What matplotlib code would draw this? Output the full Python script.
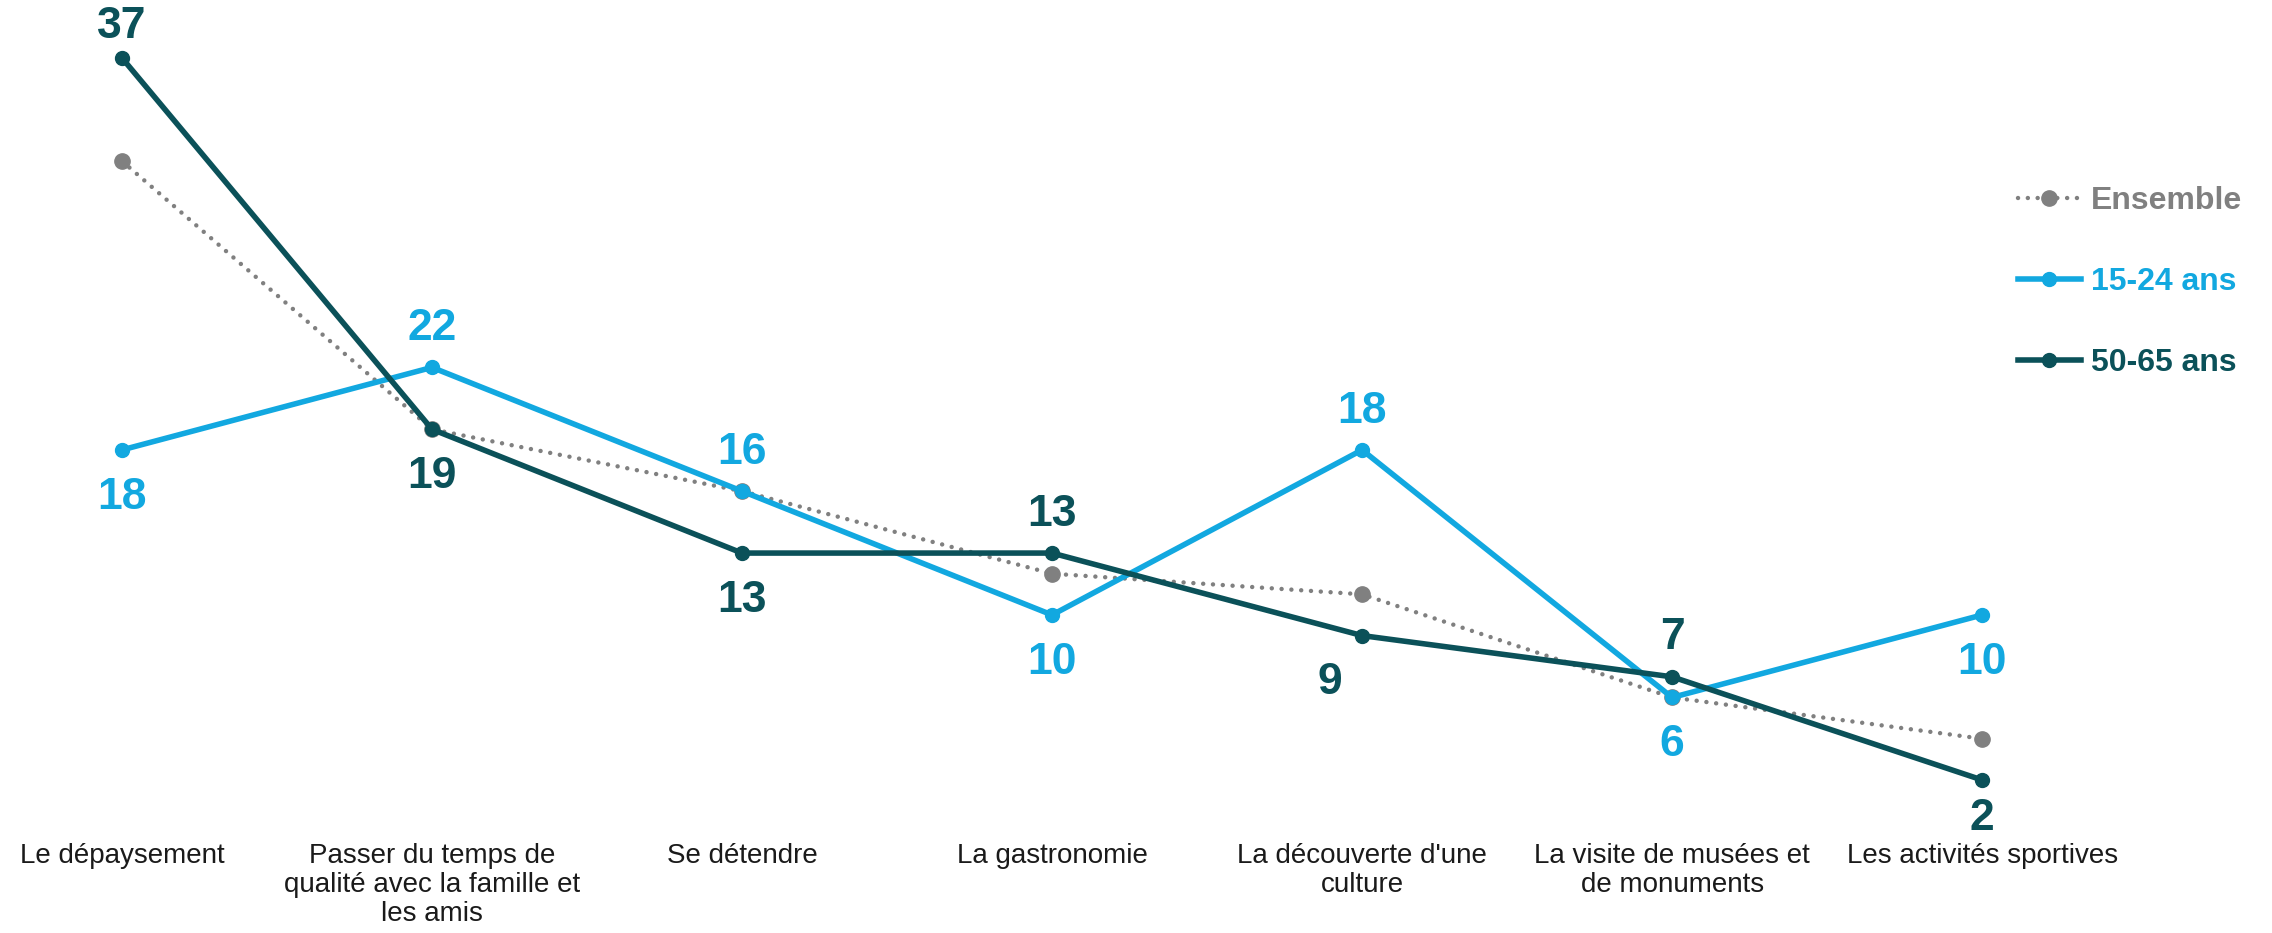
import matplotlib.pyplot as plt

plt.rcParams['font.family'] = ['Liberation Sans', 'DejaVu Sans']

categories = ["Le dépaysement", "Passer du temps de\nqualité avec la famille et\nles amis", "Se détendre",
              "La gastronomie", "La découverte d'une\nculture", "La visite de musées et\nde monuments",
              "Les activités sportives"]
ensemble = [32, 19, 16, 12, 11, 6, 4]
jeunes = [18, 22, 16, 10, 18, 6, 10]
seniors = [37, 19, 13, 13, 9, 7, 2]

# label placement: +1 above the point, -1 below
jeunes_pos = [-1, 1, 1, -1, 1, -1, -1]
seniors_pos = [1, -1, -1, 1, -1, 1, -1]

c_ens = '#808080'
c_jeu = '#12A8E0'
c_sen = '#0B5159'

fig = plt.figure(figsize=(22.72, 9.33), dpi=100)
ax = fig.add_axes([0, 98/933, 1, 835/933])
x = list(range(len(categories)))

ax.plot(x, ensemble, color=c_ens, lw=3.2, ls=(0, (0.01, 2.2)), dash_capstyle='round',
        marker='o', ms=11, label='Ensemble')
ax.plot(x, jeunes, color=c_jeu, lw=4, marker='o', ms=10, label='15-24 ans')
ax.plot(x, seniors, color=c_sen, lw=4, marker='o', ms=10, label='50-65 ans')


def offset(p):
    # va='center' sits a bit high for digits, so nudge everything down
    return 28 if p > 0 else -34


for xi, v, p in zip(x, jeunes, jeunes_pos):
    ax.annotate(str(v), (xi, v), xytext=(0, offset(p)), textcoords='offset points',
                ha='center', va='center', fontsize=32, fontweight='bold', color=c_jeu)
for i, (xi, v, p) in enumerate(zip(x, seniors, seniors_pos)):
    dx = -23 if i == 4 else 0
    dy = offset(p)
    if i == 0:
        dy = 23
    if i == 6:
        dy = -28  # keep clear of the category label underneath
    ax.annotate(str(v), (xi, v), xytext=(dx, dy), textcoords='offset points',
                ha='center', va='center', fontsize=32, fontweight='bold', color=c_sen)

ax.set_xlim(-0.3935, 6.935)
ax.set_ylim(-0.667, 39.81)
ax.set_xticks(x)
ax.set_xticklabels(categories, fontsize=20, color='#1a1a1a', linespacing=1.15, va='top')
ax.tick_params(axis='x', length=0, pad=6)
ax.set_yticks([])
for s in ax.spines.values():
    s.set_visible(False)

leg = ax.legend(loc='upper left', bbox_to_anchor=(0.888, 0.777), frameon=False, numpoints=1,
                labelcolor='linecolor', handlelength=2.0, handletextpad=0.3,
                labelspacing=1.6, borderpad=0, borderaxespad=0, prop={'weight': 'bold', 'size': 23})

fig.savefig('out.png', dpi=100)
